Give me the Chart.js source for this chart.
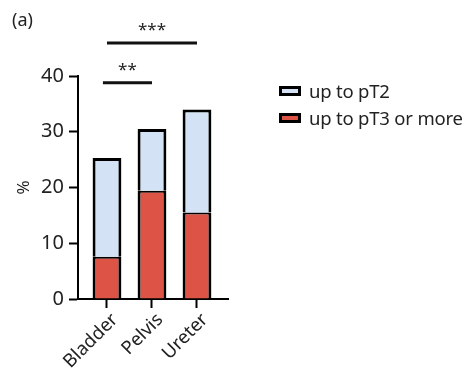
<!DOCTYPE html>
<html>
<head>
<meta charset="utf-8">
<script src="https://cdn.jsdelivr.net/npm/chart.js@4/dist/chart.umd.min.js"></script>
<style>
  body { margin: 0; background: #fff; font-family: "Noto Sans", sans-serif; color: #222; }
  #wrap { position: relative; width: 471px; height: 369px; }
  #panel { position: absolute; left: 12px; top: 7px; font-size: 18px; }
  .leg { position: absolute; left: 279px; font-size: 18.5px; letter-spacing: -0.2px; display: flex; align-items: center; white-space: nowrap; }
  .leg span.box { display: inline-block; width: 16px; height: 4px; border: 3px solid #000; margin-right: 8px; }
</style>
</head>
<body>
<div id="wrap">
  <canvas id="chart" width="471" height="369"></canvas>
  <div id="panel">(a)</div>
  <div class="leg" style="top:78px"><span class="box" style="background:#d3e3f5"></span>up to pT2</div>
  <div class="leg" style="top:105px"><span class="box" style="background:#dd5446"></span>up to pT3 or more</div>
</div>
<script>
const categories = ["Bladder", "Pelvis", "Ureter"];
const pT3 = [7.6, 19.4, 15.5];
const pT2 = [17.7, 11.1, 18.5];
const yTicks = [0, 10, 20, 30, 40];

// significance bars: from/to category index, height in % units
const sigFrom = [-0.09, 0];
const sigTo = [1.0, 2.0];
const sigLevel = [38.8, 45.9];
const sigLabel = ["**", "***"];

const toPoints = vals => vals.map((v, i) => ({ x: i, y: v }));

const sigPlugin = {
  id: "sig",
  afterDraw(chart) {
    const { ctx, scales: { x, y } } = chart;
    ctx.save();
    ctx.strokeStyle = "#111";
    ctx.lineWidth = 3;
    ctx.fillStyle = "#222";
    ctx.font = '17px "Noto Sans"';
    ctx.textAlign = "center";
    ctx.textBaseline = "bottom";
    sigLabel.forEach((lab, i) => {
      const x1 = x.getPixelForValue(sigFrom[i]);
      const x2 = x.getPixelForValue(sigTo[i]);
      const yy = y.getPixelForValue(sigLevel[i]);
      ctx.beginPath();
      ctx.moveTo(x1, yy);
      ctx.lineTo(x2, yy);
      ctx.stroke();
      ctx.fillText(lab, (x1 + x2) / 2, yy - 4);
    });
    ctx.restore();
  }
};

const axisGrid = { display: true, offset: false, drawOnChartArea: false, drawTicks: true, tickLength: 9, tickWidth: 2, tickColor: "#000" };

new Chart(document.getElementById("chart"), {
  type: "bar",
  data: {
    datasets: [
      {
        label: "up to pT3 or more",
        data: toPoints(pT3),
        backgroundColor: "#dd5446",
        borderColor: "#000",
        borderWidth: { top: 2, left: 3, right: 3, bottom: 0 },
        borderSkipped: false
      },
      {
        label: "up to pT2",
        data: toPoints(pT2),
        backgroundColor: "#d3e3f5",
        borderColor: "#000",
        borderWidth: { top: 3, left: 3, right: 3, bottom: 0 },
        borderSkipped: false
      }
    ]
  },
  options: {
    responsive: false,
    animation: false,
    categoryPercentage: 0.8,
    barPercentage: 0.8,
    layout: { padding: { top: 76, right: 243, left: 0, bottom: 0 } },
    plugins: { legend: { display: false }, tooltip: { enabled: false } },
    scales: {
      x: {
        type: "linear",
        stacked: true,
        min: -0.644,
        max: 2.689,
        offset: false,
        afterBuildTicks: s => { s.ticks = categories.map((c, i) => ({ value: i })); },
        afterFit: s => { s.height = 70; },
        grid: axisGrid,
        border: { display: true, width: 2, color: "#000" },
        ticks: {
          callback: v => categories[v],
          autoSkip: false,
          maxRotation: 45,
          minRotation: 45,
          padding: 1,
          labelOffset: 8,
          color: "#222",
          font: { family: "Noto Sans", size: 18.5 }
        }
      },
      y: {
        stacked: true,
        min: 0,
        max: 40,
        afterBuildTicks: s => { s.ticks = yTicks.map(v => ({ value: v })); },
        afterFit: s => { s.width = 78; },
        grid: axisGrid,
        border: { display: true, width: 2, color: "#000" },
        title: { display: true, text: "%", color: "#222", font: { family: "Noto Sans", size: 17 }, padding: { top: 14, bottom: 0 } },
        ticks: { padding: 5, color: "#222", font: { family: "Noto Sans", size: 20 } }
      }
    }
  },
  plugins: [sigPlugin]
});
</script>
</body>
</html>
